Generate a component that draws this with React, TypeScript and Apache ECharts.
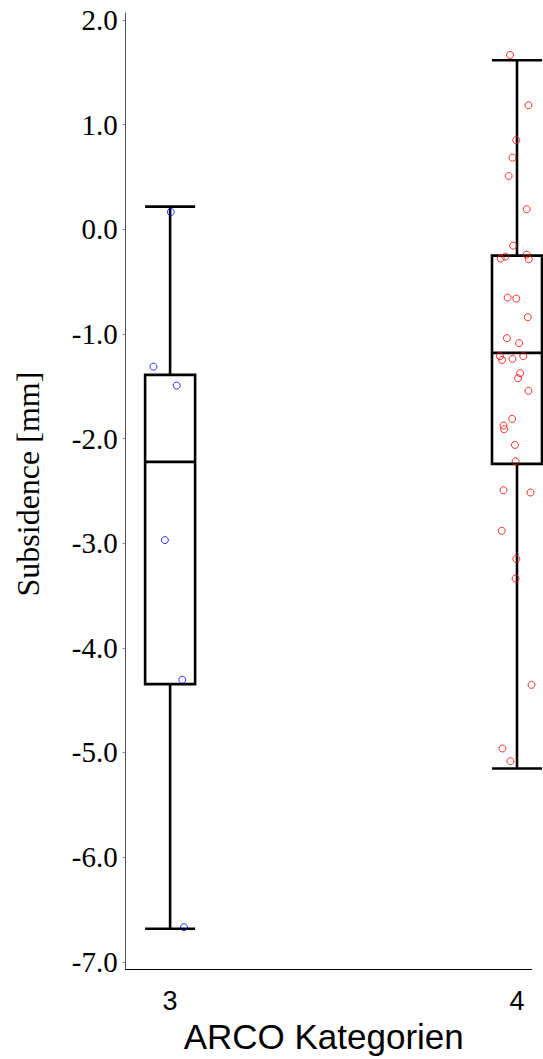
import { useEffect, useRef } from "react";
import * as echarts from "echarts";

const categories = [3, 4];
const whiskerLow = [-6.685, -5.153];
const quartile1 = [-4.347, -2.242];
const medians = [-2.223, -1.182];
const quartile3 = [-1.392, -0.252];
const whiskerHigh = [0.216, 1.615];

const yTicks = [-7, -6, -5, -4, -3, -2, -1, 0, 1, 2];

const cat3X = [3.002, 2.952, 3.019, 2.985, 3.035, 3.04];
const cat3Y = [0.165, -1.313, -1.494, -2.971, -4.306, -6.669];

const cat4X = [
  3.98, 4.033, 3.998, 3.987, 3.976, 4.028, 3.989, 3.966, 3.953, 4.028, 4.034,
  3.973, 3.998, 4.031, 3.971, 4.006, 3.951, 3.957, 3.987, 4.018, 4.009, 4.003,
  4.033, 3.986, 3.961, 3.963, 3.994, 3.996, 3.961, 4.039, 3.956, 3.998, 4.045,
  3.996, 4.042, 3.958, 3.981,
];
const cat4Y = [
  1.665, 1.185, 0.85, 0.684, 0.509, 0.191, -0.157, -0.262, -0.281, -0.243,
  -0.287, -0.653, -0.663, -0.841, -1.041, -1.089, -1.213, -1.249, -1.239,
  -1.213, -1.376, -1.424, -1.545, -1.812, -1.876, -1.911, -2.061, -2.217,
  -2.494, -2.516, -2.882, -3.15, -3.243, -3.338, -4.354, -4.962, -5.083,
];

export default function App() {
  const ref = useRef<HTMLDivElement>(null);
  useEffect(() => {
    document.body.style.margin = "0";
    const chart = echarts.init(ref.current!, null, { renderer: "svg" });
    const boxData = categories.map((c, i) => [
      c,
      whiskerLow[i],
      quartile1[i],
      medians[i],
      quartile3[i],
      whiskerHigh[i],
    ]);
    const lw = 2.6;
    chart.setOption({
      animation: false,
      backgroundColor: "#fff",
      grid: { left: 125.7, right: 11.3, top: 13, bottom: 89.7 },
      xAxis: {
        type: "value",
        min: 2.872,
        max: 4.0424,
        axisLine: { show: true, onZero: false, lineStyle: { color: "#000", width: 1 } },
        axisTick: { show: false },
        splitLine: { show: false },
        axisLabel: {
          customValues: categories,
          formatter: (v: number) => String(v),
          fontFamily: "Liberation Sans",
          fontSize: 27,
          color: "#000",
          margin: 18,
        },
        name: "ARCO Kategorien",
        nameLocation: "middle",
        nameGap: 40,
        nameTextStyle: {
          fontFamily: "Liberation Sans",
          fontSize: 35,
          color: "#000",
          padding: [0, 10, 0, 0],
        },
      },
      yAxis: {
        type: "value",
        min: -7.07,
        max: 2.066,
        axisLine: { show: true, onZero: false, lineStyle: { color: "#555", width: 1 } },
        axisTick: {
          show: true,
          customValues: yTicks,
          length: 3,
          lineStyle: { color: "#888" },
        },
        splitLine: { show: false },
        axisLabel: {
          customValues: yTicks,
          formatter: (v: number) => v.toFixed(1),
          fontFamily: "Liberation Serif",
          fontSize: 29,
          color: "#000",
          margin: 8,
        },
        name: "Subsidence [mm]",
        nameLocation: "middle",
        nameGap: 82,
        nameTextStyle: {
          fontFamily: "Liberation Serif",
          fontSize: 32,
          color: "#000",
          padding: [0, 0, 0, 14],
        },
      },
      series: [
        {
          type: "custom",
          clip: false,
          data: boxData,
          encode: { x: 0, y: [1, 2, 3, 4, 5] },
          renderItem: (_params: any, api: any) => {
            const x = api.value(0);
            const pLow = api.coord([x, api.value(1)]);
            const pQ1 = api.coord([x, api.value(2)]);
            const pMed = api.coord([x, api.value(3)]);
            const pQ3 = api.coord([x, api.value(4)]);
            const pHigh = api.coord([x, api.value(5)]);
            const cx = pMed[0];
            const hw = 25;
            const ls = { stroke: "#000", lineWidth: lw };
            return {
              type: "group",
              children: [
                { type: "line", shape: { x1: cx, y1: pHigh[1], x2: cx, y2: pQ3[1] }, style: ls },
                { type: "line", shape: { x1: cx, y1: pQ1[1], x2: cx, y2: pLow[1] }, style: ls },
                { type: "line", shape: { x1: cx - hw, y1: pHigh[1], x2: cx + hw, y2: pHigh[1] }, style: ls },
                { type: "line", shape: { x1: cx - hw, y1: pLow[1], x2: cx + hw, y2: pLow[1] }, style: ls },
                {
                  type: "rect",
                  shape: { x: cx - hw, y: pQ3[1], width: 2 * hw, height: pQ1[1] - pQ3[1] },
                  style: { fill: "#fff", stroke: "#000", lineWidth: lw },
                },
                { type: "line", shape: { x1: cx - hw, y1: pMed[1], x2: cx + hw, y2: pMed[1] }, style: ls },
              ],
            };
          },
          z: 2,
        },
        {
          type: "scatter",
          data: cat3X.map((x, i) => [x, cat3Y[i]]),
          symbol: "circle",
          symbolSize: 7,
          itemStyle: { color: "rgba(0,0,0,0)", borderColor: "#0000ff", borderWidth: 1 },
          z: 5,
        },
        {
          type: "scatter",
          data: cat4X.map((x, i) => [x, cat4Y[i]]),
          symbol: "circle",
          symbolSize: 7,
          itemStyle: { color: "rgba(0,0,0,0)", borderColor: "#ff0000", borderWidth: 1 },
          z: 5,
        },
      ],
    });
    return () => chart.dispose();
  }, []);
  return <div ref={ref} style={{ width: 543, height: 1059 }} />;
}
